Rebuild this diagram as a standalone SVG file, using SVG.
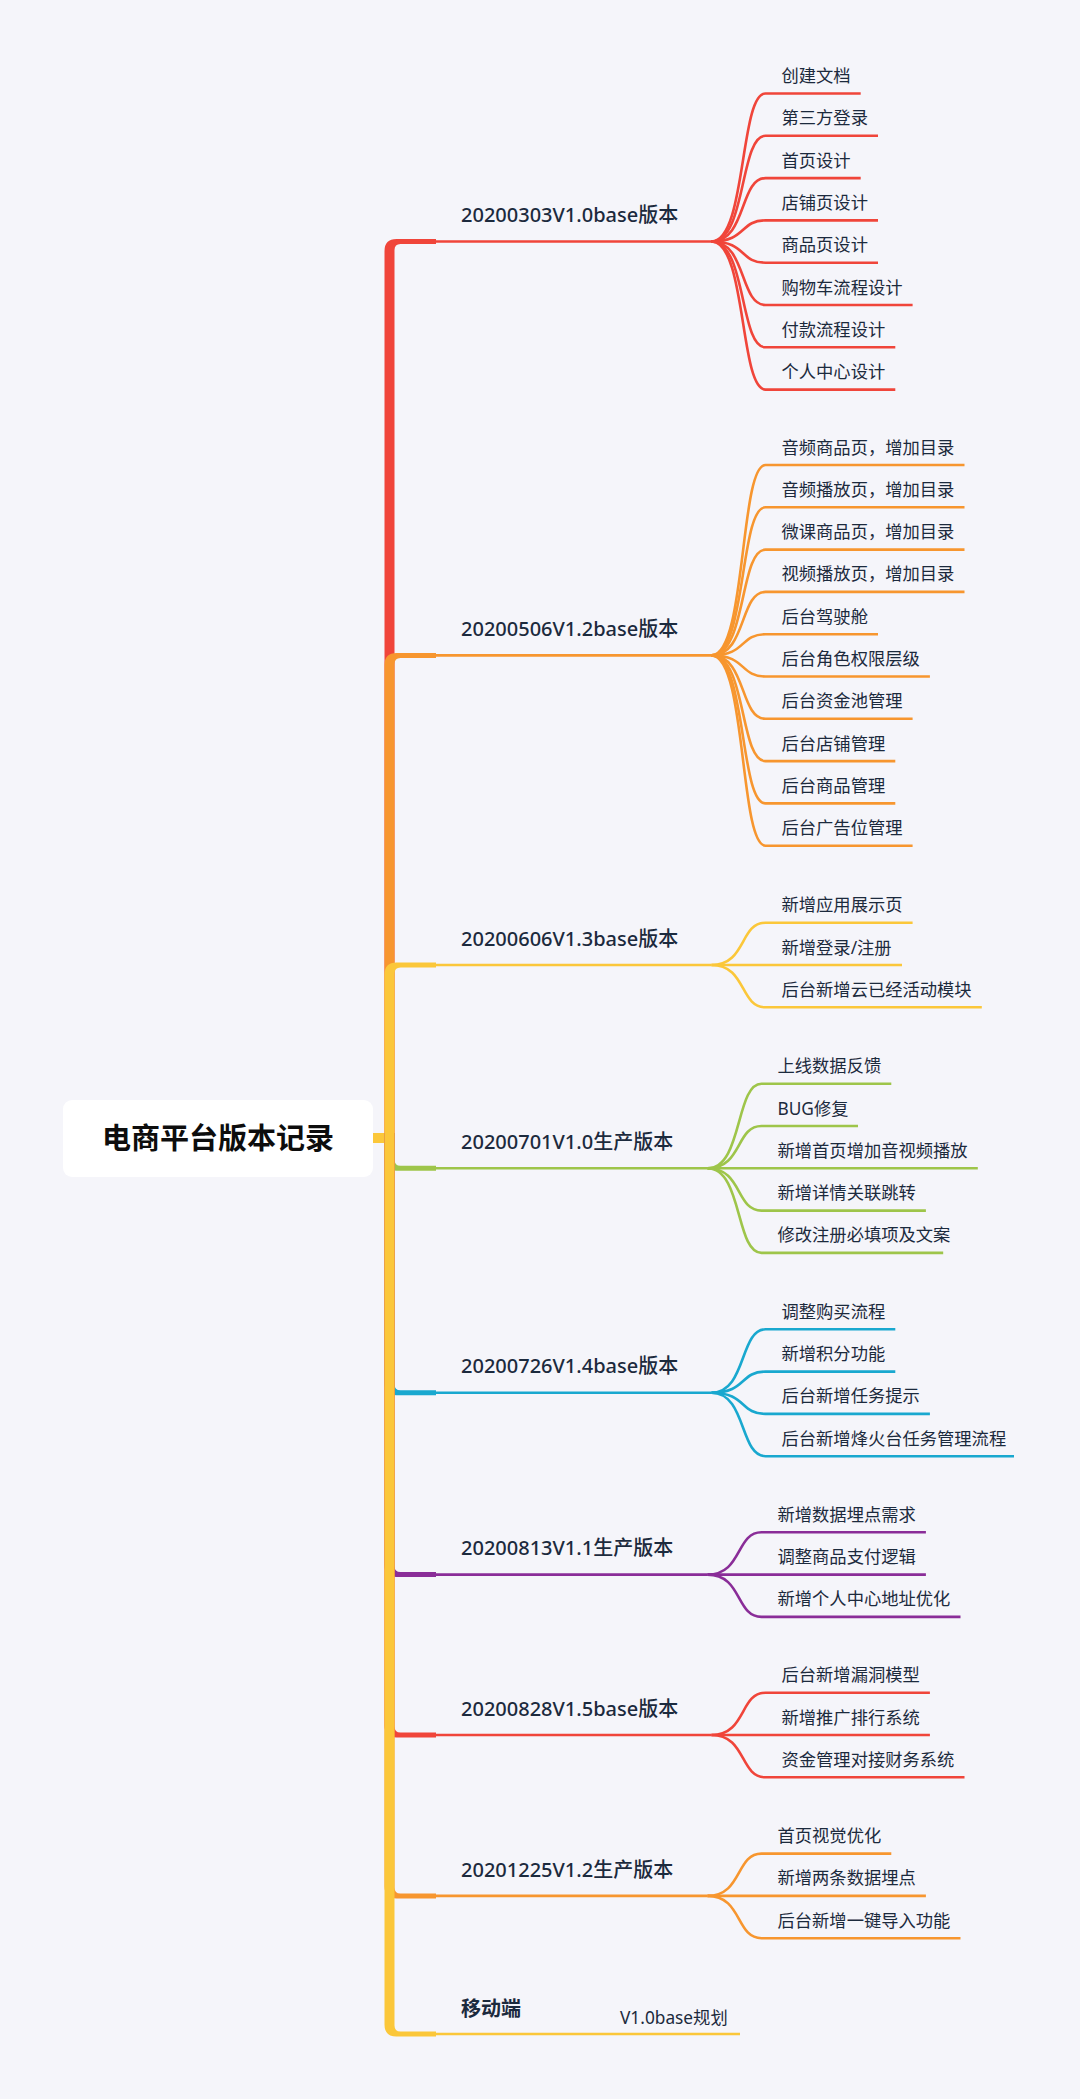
<svg xmlns="http://www.w3.org/2000/svg" width="1080" height="2099" viewBox="0 0 1080 2099">
<style>
text{font-family:"Noto Sans","Noto Sans CJK SC",sans-serif;fill:#1c2a3d}
.root{font-family:"Noto Sans CJK SC",sans-serif;font-size:29px;font-weight:700;fill:#0d0d0d}
.t{font-size:20px;font-weight:500}
.tb{font-size:20px;font-weight:700}
.c{font-size:17.3px}
.ln{fill:none;stroke-width:2.6}
.red{stroke:#f0453a}.ora{stroke:#f7962f}.yel{stroke:#fbc73a}.grn{stroke:#9ec54a}.blu{stroke:#19a8cf}.pur{stroke:#8a2d98}
</style>
<rect x="0" y="0" width="1080" height="2099" fill="#f5f5fa"/>
<g id="connectors">
<rect x="372" y="1133" width="14" height="10" fill="#fbc73a"/>
<path fill="#f0453a" d="M384.5,1143 V251 Q384.5,239 396.5,239 H436 V244 H400.5 Q394.5,244 394.5,250 V1143 Z"/>
<path fill="#f7962f" d="M384.5,1143 V664.9 Q384.5,652.9 396.5,652.9 H436 V657.9 H400.5 Q394.5,657.9 394.5,663.9 V1143 Z"/>
<path fill="#fbc73a" d="M384.5,1143 V974.5 Q384.5,962.5 396.5,962.5 H436 V967.5 H400.5 Q394.5,967.5 394.5,973.5 V1143 Z"/>
<path fill="#9ec54a" d="M384.5,1133 V1158.8 Q384.5,1170.8 396.5,1170.8 H436 V1165.8 H400.5 Q394.5,1165.8 394.5,1159.8 V1133 Z"/>
<path fill="#19a8cf" d="M384.5,1133 V1383.25 Q384.5,1395.25 396.5,1395.25 H436 V1390.25 H400.5 Q394.5,1390.25 394.5,1384.25 V1133 Z"/>
<path fill="#8a2d98" d="M384.5,1133 V1565.1 Q384.5,1577.1 396.5,1577.1 H436 V1572.1 H400.5 Q394.5,1572.1 394.5,1566.1 V1133 Z"/>
<path fill="#f0453a" d="M384.5,1133 V1725.5 Q384.5,1737.5 396.5,1737.5 H436 V1732.5 H400.5 Q394.5,1732.5 394.5,1726.5 V1133 Z"/>
<path fill="#f7962f" d="M384.5,1133 V1886.4 Q384.5,1898.4 396.5,1898.4 H436 V1893.4 H400.5 Q394.5,1893.4 394.5,1887.4 V1133 Z"/>
<path fill="#fbc73a" d="M384.5,1133 V2024.5 Q384.5,2036.5 396.5,2036.5 H436 V2031.5 H400.5 Q394.5,2031.5 394.5,2025.5 V1133 Z"/>

<g class="ln red">
<path d="M436,241.5 H711.5"/>
<path d="M711.5,241.5 C746.5,241.5 739.5,93.5 765.5,93.5 H860.7"/>
<path d="M711.5,241.5 C746.5,241.5 739.5,135.8 765.5,135.8 H878"/>
<path d="M711.5,241.5 C746.5,241.5 739.5,178.1 765.5,178.1 H860.7"/>
<path d="M711.5,241.5 C746.5,241.5 739.5,220.4 765.5,220.4 H878"/>
<path d="M711.5,241.5 C746.5,241.5 739.5,262.7 765.5,262.7 H878"/>
<path d="M711.5,241.5 C746.5,241.5 739.5,305 765.5,305 H912.6"/>
<path d="M711.5,241.5 C746.5,241.5 739.5,347.3 765.5,347.3 H895.3"/>
<path d="M711.5,241.5 C746.5,241.5 739.5,389.6 765.5,389.6 H895.3"/>
</g>
<g class="ln ora">
<path d="M436,655.4 H711.5"/>
<path d="M711.5,655.4 C746.5,655.4 739.5,465 765.5,465 H964.5"/>
<path d="M711.5,655.4 C746.5,655.4 739.5,507.3 765.5,507.3 H964.5"/>
<path d="M711.5,655.4 C746.5,655.4 739.5,549.6 765.5,549.6 H964.5"/>
<path d="M711.5,655.4 C746.5,655.4 739.5,591.9 765.5,591.9 H964.5"/>
<path d="M711.5,655.4 C746.5,655.4 739.5,634.2 765.5,634.2 H878"/>
<path d="M711.5,655.4 C746.5,655.4 739.5,676.5 765.5,676.5 H929.9"/>
<path d="M711.5,655.4 C746.5,655.4 739.5,718.8 765.5,718.8 H912.6"/>
<path d="M711.5,655.4 C746.5,655.4 739.5,761.1 765.5,761.1 H895.3"/>
<path d="M711.5,655.4 C746.5,655.4 739.5,803.4 765.5,803.4 H895.3"/>
<path d="M711.5,655.4 C746.5,655.4 739.5,845.7 765.5,845.7 H912.6"/>
</g>
<g class="ln yel">
<path d="M436,965 H711.5"/>
<path d="M711.5,965 C746.5,965 739.5,922.7 765.5,922.7 H912.6"/>
<path d="M711.5,965 H902"/>
<path d="M711.5,965 C746.5,965 739.5,1007.3 765.5,1007.3 H981.8"/>
</g>
<g class="ln grn">
<path d="M436,1168.3 H707.5"/>
<path d="M707.5,1168.3 C742.5,1168.3 735.5,1083.7 761.5,1083.7 H891.3"/>
<path d="M707.5,1168.3 C742.5,1168.3 735.5,1126 761.5,1126 H858"/>
<path d="M707.5,1168.3 H977.8"/>
<path d="M707.5,1168.3 C742.5,1168.3 735.5,1210.6 761.5,1210.6 H925.9"/>
<path d="M707.5,1168.3 C742.5,1168.3 735.5,1252.9 761.5,1252.9 H943.2"/>
</g>
<g class="ln blu">
<path d="M436,1392.75 H711.5"/>
<path d="M711.5,1392.75 C746.5,1392.75 739.5,1329.3 765.5,1329.3 H895.3"/>
<path d="M711.5,1392.75 C746.5,1392.75 739.5,1371.6 765.5,1371.6 H895.3"/>
<path d="M711.5,1392.75 C746.5,1392.75 739.5,1413.9 765.5,1413.9 H929.9"/>
<path d="M711.5,1392.75 C746.5,1392.75 739.5,1456.2 765.5,1456.2 H1014"/>
</g>
<g class="ln pur">
<path d="M436,1574.6 H707.5"/>
<path d="M707.5,1574.6 C742.5,1574.6 735.5,1532.3 761.5,1532.3 H925.9"/>
<path d="M707.5,1574.6 H925.9"/>
<path d="M707.5,1574.6 C742.5,1574.6 735.5,1616.9 761.5,1616.9 H960.5"/>
</g>
<g class="ln red">
<path d="M436,1735 H711.5"/>
<path d="M711.5,1735 C746.5,1735 739.5,1692.7 765.5,1692.7 H929.9"/>
<path d="M711.5,1735 H929.9"/>
<path d="M711.5,1735 C746.5,1735 739.5,1777.3 765.5,1777.3 H964.5"/>
</g>
<g class="ln ora">
<path d="M436,1895.9 H707.5"/>
<path d="M707.5,1895.9 C742.5,1895.9 735.5,1853.6 761.5,1853.6 H891.3"/>
<path d="M707.5,1895.9 H925.9"/>
<path d="M707.5,1895.9 C742.5,1895.9 735.5,1938.2 761.5,1938.2 H960.5"/>
</g>
<g class="ln yel">
<path d="M436,2034 H740"/>
</g>
</g>

<g id="root">
<rect x="63" y="1100" width="310" height="77" rx="9" fill="#ffffff"/>
<text class="root" x="218" y="1149" text-anchor="middle">电商平台版本记录</text>
</g>

<g id="b1">
<text class="t" x="461" y="222">20200303V1.0base版本</text>
<g id="b1-c"><text class="c" x="781.5" y="82">创建文档</text>
<text class="c" x="781.5" y="124.3">第三方登录</text>
<text class="c" x="781.5" y="166.6">首页设计</text>
<text class="c" x="781.5" y="208.9">店铺页设计</text>
<text class="c" x="781.5" y="251.2">商品页设计</text>
<text class="c" x="781.5" y="293.5">购物车流程设计</text>
<text class="c" x="781.5" y="335.8">付款流程设计</text>
<text class="c" x="781.5" y="378.1">个人中心设计</text></g>
</g>
<g id="b2">
<text class="t" x="461" y="636">20200506V1.2base版本</text>
<g id="b2-c"><text class="c" x="781.5" y="453.5">音频商品页，增加目录</text>
<text class="c" x="781.5" y="495.8">音频播放页，增加目录</text>
<text class="c" x="781.5" y="538.1">微课商品页，增加目录</text>
<text class="c" x="781.5" y="580.4">视频播放页，增加目录</text>
<text class="c" x="781.5" y="622.7">后台驾驶舱</text>
<text class="c" x="781.5" y="665">后台角色权限层级</text>
<text class="c" x="781.5" y="707.3">后台资金池管理</text>
<text class="c" x="781.5" y="749.6">后台店铺管理</text>
<text class="c" x="781.5" y="791.9">后台商品管理</text>
<text class="c" x="781.5" y="834.2">后台广告位管理</text></g>
</g>
<g id="b3">
<text class="t" x="461" y="945.7">20200606V1.3base版本</text>
<g id="b3-c"><text class="c" x="781.5" y="911.2">新增应用展示页</text>
<text class="c" x="781.5" y="953.5">新增登录/注册</text>
<text class="c" x="781.5" y="995.8">后台新增云已经活动模块</text></g>
</g>
<g id="b4">
<text class="t" x="461" y="1149">20200701V1.0生产版本</text>
<g id="b4-c"><text class="c" x="777.5" y="1072.2">上线数据反馈</text>
<text class="c" x="777.5" y="1114.5">BUG修复</text>
<text class="c" x="777.5" y="1156.8">新增首页增加音视频播放</text>
<text class="c" x="777.5" y="1199.1">新增详情关联跳转</text>
<text class="c" x="777.5" y="1241.4">修改注册必填项及文案</text></g>
</g>
<g id="b5">
<text class="t" x="461" y="1373.4">20200726V1.4base版本</text>
<g id="b5-c"><text class="c" x="781.5" y="1317.8">调整购买流程</text>
<text class="c" x="781.5" y="1360.1">新增积分功能</text>
<text class="c" x="781.5" y="1402.4">后台新增任务提示</text>
<text class="c" x="781.5" y="1444.7">后台新增烽火台任务管理流程</text></g>
</g>
<g id="b6">
<text class="t" x="461" y="1555.3">20200813V1.1生产版本</text>
<g id="b6-c"><text class="c" x="777.5" y="1520.8">新增数据埋点需求</text>
<text class="c" x="777.5" y="1563.1">调整商品支付逻辑</text>
<text class="c" x="777.5" y="1605.4">新增个人中心地址优化</text></g>
</g>
<g id="b7">
<text class="t" x="461" y="1715.7">20200828V1.5base版本</text>
<g id="b7-c"><text class="c" x="781.5" y="1681.2">后台新增漏洞模型</text>
<text class="c" x="781.5" y="1723.5">新增推广排行系统</text>
<text class="c" x="781.5" y="1765.8">资金管理对接财务系统</text></g>
</g>
<g id="b8">
<text class="t" x="461" y="1876.6">20201225V1.2生产版本</text>
<g id="b8-c"><text class="c" x="777.5" y="1842.1">首页视觉优化</text>
<text class="c" x="777.5" y="1884.4">新增两条数据埋点</text>
<text class="c" x="777.5" y="1926.7">后台新增一键导入功能</text></g>
</g>
<g id="b9">
<text class="tb" x="461" y="2016">移动端</text>
<text class="c" x="620" y="2024">V1.0base规划</text>
</g>
</svg>
